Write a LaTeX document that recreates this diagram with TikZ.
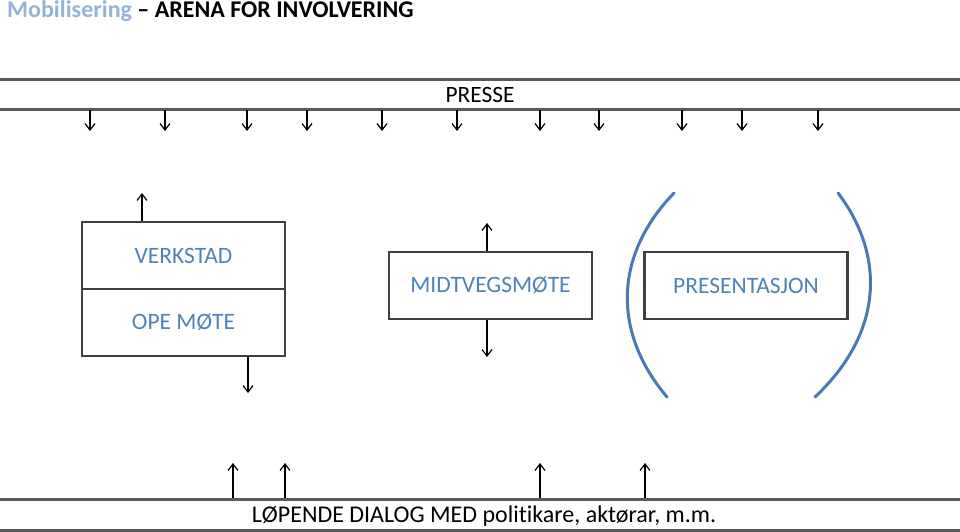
\documentclass[tikz,border=0pt]{standalone}
\usepackage{fontspec}
\setmainfont{Carlito}[Ligatures={NoCommon}]
\usetikzlibrary{arrows.meta}
\definecolor{txtblue}{HTML}{4F81BD}
\definecolor{titleblue}{HTML}{95B3D7}
\definecolor{boxgray}{HTML}{404040}
\definecolor{bandgray}{HTML}{5A5A5A}
\definecolor{parblue}{HTML}{4A7AB5}
\tikzset{
  x=1pt, y=-1pt,
  stepbox/.style={draw=boxgray, line width=2.6pt, minimum width=203pt, minimum height=67pt, inner sep=0pt, text=txtblue, font=\fontsize{23.5}{27}\selectfont},
  band/.style={draw=bandgray, line width=3pt},
  arr/.style={black, line width=1.2pt, -{Straight Barb[length=6.5pt,width=10pt]}},
  paren/.style={draw=parblue, line width=3pt},
  bandtext/.style={inner sep=0pt, font=\fontsize{23.4}{27}\selectfont}
}
\begin{document}
\begin{tikzpicture}
\useasboundingbox (0,0) rectangle (960,532);
% title
\node[anchor=west, inner sep=0pt, font=\bfseries\fontsize{24}{28}\selectfont] (title) at (7,11.5) {\textcolor{titleblue}{Mobilisering} -- ARENA FOR INVOLVERING};
% PRESSE band
\draw[band] (0,80) -- (960,80);
\draw[band] (0,109.5) -- (960,109.5);
\node[bandtext] (presse) at (480,95) {PRESSE};
\foreach \x/\n in {90/1,165/2,247/3,307/4,382/5,457/6,540/7,599/8,682/9,742/10,818/11}{
  \coordinate (pd\n) at (\x,110);
  \draw[arr] (pd\n) -- ++(0,21);
}
% boxes
\node[stepbox] (verk) at (183.5,255.5) {VERKSTAD};
\node[stepbox] (ope) at (183.5,322.5) {OPE MØTE};
\node[stepbox] (midt) at (490.5,285.5) {MIDTVEGSMØTE};
\node[stepbox] (pres) at (746,285.5) {PRESENTASJON};
\coordinate (verkup) at (142,193);
\coordinate (opedown) at (248,393);
\coordinate (midtup) at (487,223);
\coordinate (midtdown) at (487,357);
\draw[arr] (verk.north -| verkup) -- (verkup);
\draw[arr] (ope.south -| opedown) -- (opedown);
\draw[arr] (midt.north -| midtup) -- (midtup);
\draw[arr] (midt.south -| midtdown) -- (midtdown);
% parentheses
\draw[paren, line cap=round] (674,193) .. controls (614,255) and (612,332) .. (667,397);
\draw[paren, line cap=round] (838,193) .. controls (885,255) and (884,332) .. (815,397);
% bottom band
\draw[band] (0,499) -- (960,499);
\draw[band] (0,530) -- (960,530);
\node[inner sep=0pt, font=\fontsize{24}{28}\selectfont] (dialog) at (484,516) {LØPENDE DIALOG MED politikare, aktørar, m.m.};
\foreach \x/\n in {233/1,285/2,540/3,645/4}{
  \coordinate (du\n) at (\x,498);
  \draw[arr] (du\n) -- ++(0,-35);
}
\end{tikzpicture}
\end{document}
